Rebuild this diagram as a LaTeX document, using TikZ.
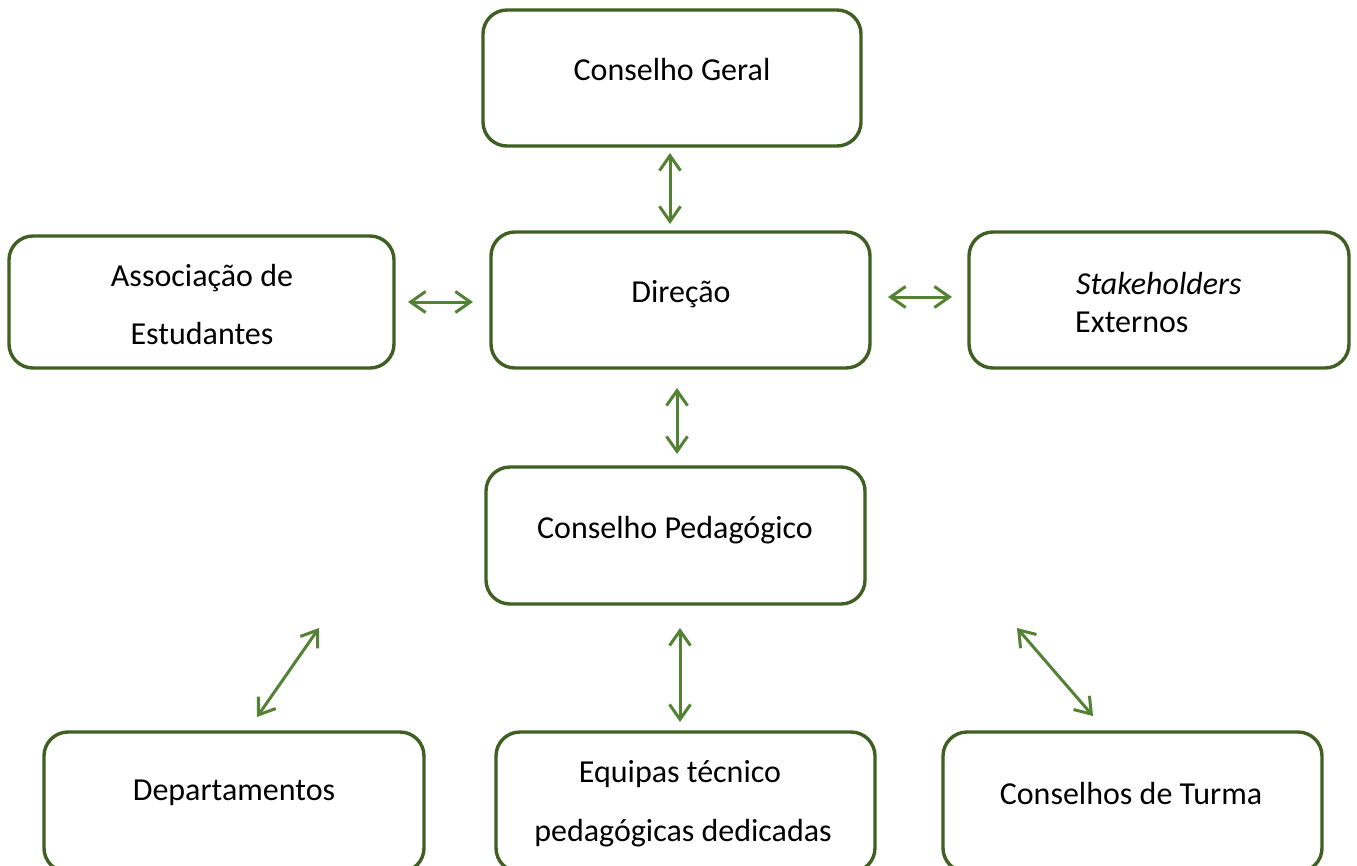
\documentclass[tikz,border=0pt]{standalone}
\usepackage{fontspec}
\setmainfont{Carlito}
\usetikzlibrary{arrows.meta}
\definecolor{boxgreen}{HTML}{3F5F23}
\definecolor{arrgreen}{HTML}{548235}
\begin{document}
\begin{tikzpicture}[x=1pt,y=-1pt,
  box/.style={draw=boxgreen,line width=3.4pt,rounded corners=24pt,fill=white,inner sep=0pt},
  lbl/.style={font=\fontsize{32}{36}\selectfont,inner sep=0pt,text=black},
  conn/.style={draw=arrgreen,line width=3pt,{Straight Barb[length=15pt,width=21pt,line width=3pt]}-{Straight Barb[length=15pt,width=21pt,line width=3pt]}}]
\useasboundingbox (0,0) rectangle (1357,865);
\clip (0,0) rectangle (1357,865);
\fill[white] (0,0) rectangle (1357,865);
% boxes
\node[box,minimum width=378pt,minimum height=136pt] (cg) at (672,78) {};
\node[box,minimum width=379pt,minimum height=136pt] (dir) at (680.5,300) {};
\node[box,minimum width=385pt,minimum height=132pt] (ae) at (201.5,302) {};
\node[box,minimum width=380pt,minimum height=136pt] (sh) at (1159,300) {};
\node[box,minimum width=379pt,minimum height=137pt] (cp) at (675.5,535.5) {};
\node[box,minimum width=380pt,minimum height=140pt] (dep) at (234,802) {};
\node[box,minimum width=379pt,minimum height=140pt] (eq) at (685.5,802) {};
\node[box,minimum width=379pt,minimum height=140pt] (ct) at (1132.5,802) {};
% labels
\node[lbl] (tcg) at (672,70) {Conselho Geral};
\node[lbl] (tdir) at (681,294) {Direção};
\node[lbl] (tae1) at (202,278) {Associação de};
\node[lbl] (tae2) at (202,334) {Estudantes};
\node[lbl,anchor=west] (tsh1) at (1076,284) {\itshape Stakeholders};
\node[lbl,anchor=west] (tsh2) at (1075,322) {Externos};
\node[lbl] (tcp) at (675,530) {Conselho Pedagógico};
\node[lbl] (tdep) at (234,793) {Departamentos};
\node[lbl] (teq1) at (680,774) {Equipas técnico};
\node[lbl] (teq2) at (683,833) {pedagógicas dedicadas};
\node[lbl] (tct) at (1131,793) {Conselhos de Turma};
% connector ends
\coordinate (a1) at (670,153); \coordinate (a2) at (670,224);
\coordinate (b1) at (408,302); \coordinate (b2) at (473,302);
\coordinate (c1) at (888,297); \coordinate (c2) at (952,297);
\coordinate (d1) at (677,388); \coordinate (d2) at (677,454);
\coordinate (e1) at (680,628); \coordinate (e2) at (680,722);
\coordinate (f1) at (257,717); \coordinate (f2) at (319,628);
\coordinate (g1) at (1017,628); \coordinate (g2) at (1093,716);
\draw[conn] (a1) -- (a2);
\draw[conn] (b1) -- (b2);
\draw[conn] (c1) -- (c2);
\draw[conn] (d1) -- (d2);
\draw[conn] (e1) -- (e2);
\draw[conn] (f1) -- (f2);
\draw[conn] (g1) -- (g2);
\end{tikzpicture}
\end{document}
